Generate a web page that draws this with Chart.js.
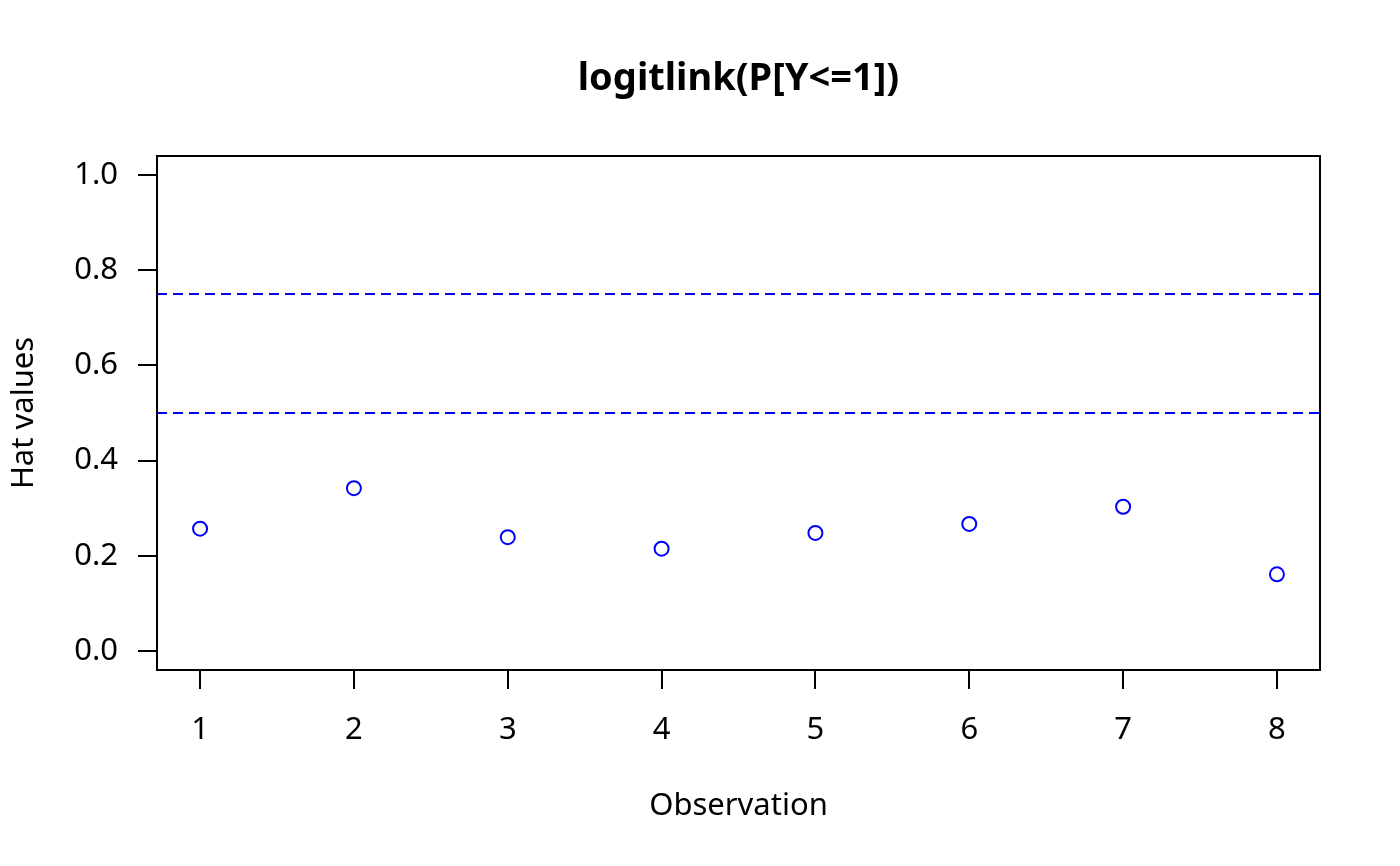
<!DOCTYPE html>
<html>
<head>
<meta charset="utf-8">
<script src="https://cdn.jsdelivr.net/npm/chart.js@4"></script>
<style>
    body { margin: 0; background: #fff; }
    #wrap { width: 1400px; height: 866px; }
</style>
</head>
<body>
<div id="wrap"><canvas id="hat"></canvas></div>
<script>
const observations = [1, 2, 3, 4, 5, 6, 7, 8];
const hatValues = [0.257, 0.342, 0.239, 0.215, 0.248, 0.267, 0.303, 0.161];
const refLines = [0.75, 0.5];
const xTicks = [1, 2, 3, 4, 5, 6, 7, 8];
const yTicks = [0, 0.2, 0.4, 0.6, 0.8, 1.0];

// R style axis limits: data range extended by 4% each side
const xMin = 0.72, xMax = 8.28;
const yMin = -0.04, yMax = 1.04;

const font = { family: 'Noto Sans', size: 31 };

// box around the plot region, like R's box()
// also centres the main title over the plot region instead of the canvas
const boxPlugin = {
    id: 'box',
    afterLayout(chart) {
        const tb = chart.titleBlock;
        if (tb) {
            tb.left = chart.chartArea.left;
            tb.right = chart.chartArea.right;
            tb.width = tb.right - tb.left;
        }
    },
    afterDatasetsDraw(chart) {
        const { ctx, chartArea } = chart;
        ctx.save();
        ctx.strokeStyle = '#000';
        ctx.lineWidth = 2;
        ctx.strokeRect(chartArea.left, chartArea.top, chartArea.right - chartArea.left, chartArea.bottom - chartArea.top);
        ctx.restore();
    }
};

const datasets = [{
    label: 'Hat values',
    data: observations.map((x, i) => ({ x: x, y: hatValues[i] })),
    pointStyle: 'circle',
    pointRadius: 7,
    pointBorderWidth: 2,
    pointBorderColor: '#0000ff',
    pointBackgroundColor: 'rgba(0,0,0,0)',
    showLine: false
}];

refLines.forEach(v => {
    datasets.push({
        label: 'ref ' + v,
        data: [{ x: xMin, y: v }, { x: xMax, y: v }],
        showLine: true,
        borderColor: '#0000ff',
        borderWidth: 2,
        borderDash: [10, 6],
        pointRadius: 0
    });
});

const ctx = document.getElementById('hat').getContext('2d');
new Chart(ctx, {
    type: 'scatter',
    data: { datasets: datasets },
    options: {
        responsive: true,
        maintainAspectRatio: false,
        animation: false,
        layout: { padding: { left: 0, right: 80, top: 0, bottom: 0 } },
        plugins: {
            legend: { display: false },
            tooltip: { enabled: false },
            title: {
                display: true,
                text: 'logitlink(P[Y<=1])',
                color: '#000',
                font: { family: 'Noto Sans', size: 38, weight: 'bold' },
                padding: { top: 56, bottom: 54.4 }
            }
        },
        scales: {
            x: {
                type: 'linear',
                min: xMin,
                max: xMax,
                afterBuildTicks: scale => { scale.ticks = xTicks.map(v => ({ value: v })); },
                afterFit: scale => { scale.height = 196; },
                grid: { drawOnChartArea: false, drawTicks: true, tickLength: 19, tickColor: '#000', lineWidth: 2 },
                border: { display: false },
                ticks: { color: '#000', font: font, padding: 23, maxRotation: 0, callback: v => String(v) },
                title: { display: true, text: 'Observation', color: '#000', font: font, padding: { top: 0, bottom: 41 } }
            },
            y: {
                type: 'linear',
                min: yMin,
                max: yMax,
                afterBuildTicks: scale => { scale.ticks = yTicks.map(v => ({ value: v })); },
                afterFit: scale => { scale.width = 157; },
                grid: { drawOnChartArea: false, drawTicks: true, tickLength: 19, tickColor: '#000', lineWidth: 2 },
                border: { display: false },
                ticks: { color: '#000', font: font, padding: 20, callback: v => v.toFixed(1) },
                title: { display: true, text: 'Hat values', color: '#000', font: font, padding: { top: 6, bottom: 0 } }
            }
        }
    },
    plugins: [boxPlugin]
});
</script>
</body>
</html>
